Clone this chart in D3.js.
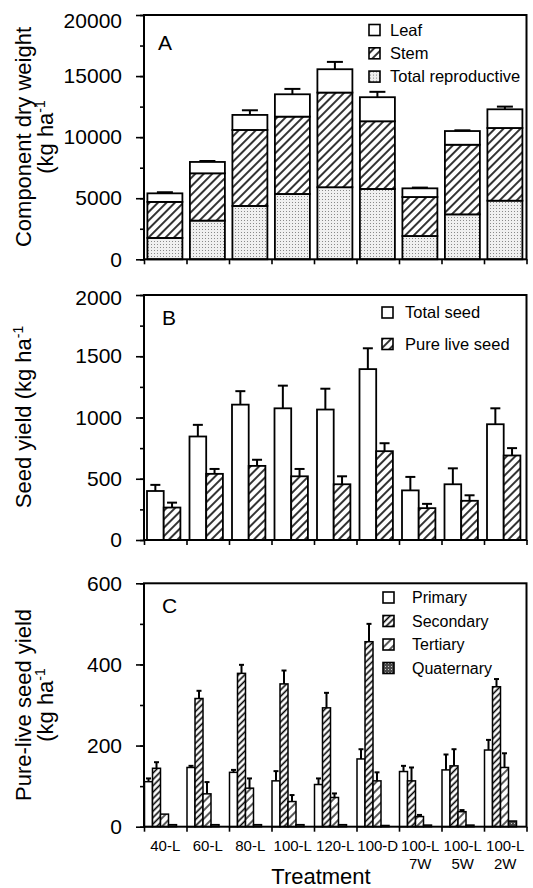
<!DOCTYPE html>
<html>
<head>
<meta charset="utf-8">
<title>Dry weight and seed yield by treatment</title>
<script src="https://cdn.jsdelivr.net/npm/d3@7"></script>
<style>
  body { margin: 0; background: #fff; }
  text { font-family: "Liberation Sans", Arial, Helvetica, sans-serif; fill: #000; }
</style>
</head>
<body>
<svg id="chart" width="533" height="888"></svg>
<script>
// treatments (second label line for the wheat-interval ones)
const treatments = ["40-L", "60-L", "80-L", "100-L", "120-L", "100-D", "100-L", "100-L", "100-L"];
const treatmentSub = ["", "", "", "", "", "", "7W", "5W", "2W"];

// panel A: component dry weight (kg/ha), stacked
const reproductive = [1750, 3170, 4370, 5350, 5900, 5760, 1910, 3680, 4800];
const stem = [2950, 3870, 6220, 6330, 7750, 5540, 3190, 5700, 5950];
const leaf = [700, 930, 1230, 1830, 1910, 1970, 710, 1120, 1530];
const totalErr = [90, 80, 380, 440, 600, 440, 60, 60, 220];

// panel B: seed yield (kg/ha)
const totalSeed = [400, 845, 1105, 1075, 1065, 1395, 405, 455, 945];
const totalSeedErr = [50, 95, 110, 185, 170, 170, 110, 130, 130];
const pureLiveSeed = [265, 540, 605, 520, 455, 725, 260, 320, 690];
const pureLiveSeedErr = [40, 40, 50, 60, 65, 65, 35, 45, 60];

// panel C: pure-live seed yield by tiller class (kg/ha)
const primary = [111, 146, 134, 113, 104, 167, 136, 140, 189];
const primaryErr = [8, 4, 6, 24, 15, 24, 14, 38, 25];
const secondary = [144, 316, 378, 352, 293, 456, 113, 150, 345];
const secondaryErr = [15, 19, 21, 33, 37, 44, 33, 41, 19];
const tertiary = [31, 81, 95, 62, 72, 113, 25, 37, 146];
const tertiaryErr = [0, 29, 24, 16, 10, 21, 4, 4, 35];
const quaternary = [5, 5, 5, 5, 5, 3, 4, 4, 14];
const quaternaryErr = [0, 0, 0, 0, 0, 0, 0, 0, 0];

const svg = d3.select("#chart");
const left = 144, right = 526.5;
const idx = d3.range(treatments.length);
const x = d3.scaleBand().domain(idx).range([left, right]);
const xEdge = d3.scaleLinear().domain([0, treatments.length]).range([left, right]);

// fill patterns
const defs = svg.append("defs");
function hatch(id, gap, w) {
  const p = defs.append("pattern").attr("id", id)
    .attr("patternUnits", "userSpaceOnUse")
    .attr("width", gap).attr("height", gap)
    .attr("patternTransform", "rotate(45)");
  p.append("rect").attr("width", gap).attr("height", gap).attr("fill", "#fff");
  p.append("line").attr("x1", gap / 2).attr("x2", gap / 2).attr("y1", 0).attr("y2", gap)
    .attr("stroke", "#000").attr("stroke-width", w);
}
function stipple(id, bg, dot) {
  const p = defs.append("pattern").attr("id", id)
    .attr("patternUnits", "userSpaceOnUse").attr("width", 3).attr("height", 3);
  p.append("rect").attr("width", 3).attr("height", 3).attr("fill", bg);
  p.append("rect").attr("x", 1).attr("y", 1).attr("width", 1).attr("height", 1).attr("fill", dot);
}
hatch("stemHatch", 6, 1.6);
hatch("plsHatch", 6, 1.6);
hatch("secHatch", 4.5, 1.6);
hatch("terHatch", 6, 1.3);
stipple("reproDots", "#f0f0f0", "#8a8a8a");
stipple("quatDots", "#4a4a4a", "#cfcfcf");

function panel(top, bottom, yMax, major, minor, topShift) {
  const y = d3.scaleLinear().domain([0, yMax]).range([bottom, top]);
  const g = svg.append("g");
  g.append("g").attr("class", "ax").attr("transform", `translate(${left},0)`)
    .call(d3.axisLeft(y).tickValues(d3.range(0, yMax + 1, minor)).tickSize(4).tickFormat(""));
  g.append("g").attr("class", "ax").attr("transform", `translate(${left},0)`)
    .call(d3.axisLeft(y).tickValues(d3.range(0, yMax + 1, major)).tickSize(8).tickPadding(14).tickFormat(d3.format("d")))
    .selectAll("text").style("font-size", "21px")
    .attr("y", d => d === yMax ? topShift : 0);
  g.append("g").attr("class", "ax").attr("transform", `translate(0,${bottom})`)
    .call(d3.axisBottom(xEdge).tickValues(d3.range(treatments.length + 1)).tickSize(5).tickFormat(""));
  g.selectAll(".ax .domain").remove();
  g.selectAll(".ax line").attr("stroke", "#000").attr("stroke-width", 1.6);
  const bars = g.append("g");
  const frame = () => g.append("rect")
    .attr("x", left).attr("y", top).attr("width", right - left).attr("height", bottom - top)
    .attr("fill", "none").attr("stroke", "#000").attr("stroke-width", 2);
  return { g, bars, y, frame };
}

function errorBars(g, data, capW) {
  const e = g.selectAll(null).data(data.filter(d => d.err > 0)).enter().append("g")
    .attr("stroke", "#000").attr("stroke-width", 2);
  e.append("line").attr("x1", d => d.cx).attr("x2", d => d.cx).attr("y1", d => d.y0).attr("y2", d => d.y1);
  e.append("line").attr("x1", d => d.cx - capW / 2).attr("x2", d => d.cx + capW / 2)
    .attr("y1", d => d.y1).attr("y2", d => d.y1);
}

function legend(g, items, bx, by, dy, tx, size) {
  const row = g.selectAll(null).data(items).enter().append("g")
    .attr("transform", (d, i) => `translate(0,${by + i * dy})`);
  row.append("rect").attr("x", bx).attr("y", -5.5).attr("width", 11).attr("height", 11)
    .attr("fill", d => d.fill).attr("stroke", "#000").attr("stroke-width", 1.6);
  row.append("text").attr("x", tx).attr("dy", "0.35em").style("font-size", size + "px").text(d => d.label);
}

function yTitle(lines, cx, cy) {
  lines.forEach((ln, i) => {
    const t = svg.append("text")
      .attr("transform", `translate(${cx + i * 22},${cy}) rotate(-90)`)
      .attr("text-anchor", "middle").style("font-size", "22px");
    t.append("tspan").text(ln.text);
    if (ln.sup) t.append("tspan").attr("dy", -8).style("font-size", "14px").text(ln.sup);
  });
}

// ---- Panel A ----
const A = panel(15, 259.3, 20000, 5000, 2500, 6);
const rowsA = idx.map(i => ({ i, repro: reproductive[i], stem: stem[i], leaf: leaf[i] }));
const stackA = d3.stack().keys(["repro", "stem", "leaf"])(rowsA);
const fillA = { repro: "url(#reproDots)", stem: "url(#stemHatch)", leaf: "#fff" };
const barW = 35, barOff = 3.4;
A.bars.selectAll("g").data(stackA).enter().append("g")
  .attr("fill", s => fillA[s.key])
  .selectAll("rect").data(s => s).enter().append("rect")
  .attr("x", d => x(d.data.i) + barOff).attr("width", barW)
  .attr("y", d => A.y(d[1])).attr("height", d => A.y(d[0]) - A.y(d[1]))
  .attr("stroke", "#000").attr("stroke-width", 1.8);
errorBars(A.g, idx.map(i => {
  const tot = reproductive[i] + stem[i] + leaf[i];
  return { cx: x(i) + barOff + barW / 2, y0: A.y(tot), y1: A.y(tot + totalErr[i]), err: totalErr[i] };
}), 16);
A.frame();
A.g.append("text").attr("x", 158).attr("y", 50).style("font-size", "21px").text("A");
legend(A.g, [
  { label: "Leaf", fill: "#fff" },
  { label: "Stem", fill: "url(#stemHatch)" },
  { label: "Total reproductive", fill: "url(#reproDots)" }
], 369, 30, 23.3, 390, 16.5);

// ---- Panel B ----
const B = panel(295, 540, 2000, 500, 250, 3);
const seriesB = [
  { key: "total", vals: totalSeed, errs: totalSeedErr, fill: "#fff" },
  { key: "pls", vals: pureLiveSeed, errs: pureLiveSeedErr, fill: "url(#plsHatch)" }
];
const subB = d3.scaleBand().domain(seriesB.map(s => s.key)).range([3, 36.4]);
seriesB.forEach(s => {
  B.bars.append("g").attr("fill", s.fill).selectAll("rect").data(idx).enter().append("rect")
    .attr("x", i => x(i) + subB(s.key)).attr("width", subB.bandwidth())
    .attr("y", i => B.y(s.vals[i])).attr("height", i => B.y(0) - B.y(s.vals[i]))
    .attr("stroke", "#000").attr("stroke-width", 1.8);
  errorBars(B.g, idx.map(i => ({
    cx: x(i) + subB(s.key) + subB.bandwidth() / 2,
    y0: B.y(s.vals[i]), y1: B.y(s.vals[i] + s.errs[i]), err: s.errs[i]
  })), 10);
});
B.frame();
B.g.append("text").attr("x", 162).attr("y", 325).style("font-size", "21px").text("B");
legend(B.g, [
  { label: "Total seed", fill: "#fff" },
  { label: "Pure live seed", fill: "url(#plsHatch)" }
], 382, 312.5, 31.5, 405, 16.5);

// ---- Panel C ----
const C = panel(583.3, 826.7, 600, 200, 100, 0);
const seriesC = [
  { key: "Primary", vals: primary, errs: primaryErr, fill: "#fff" },
  { key: "Secondary", vals: secondary, errs: secondaryErr, fill: "url(#secHatch)" },
  { key: "Tertiary", vals: tertiary, errs: tertiaryErr, fill: "url(#terHatch)" },
  { key: "Quaternary", vals: quaternary, errs: quaternaryErr, fill: "url(#quatDots)" }
];
const subC = d3.scaleBand().domain(seriesC.map(s => s.key)).range([0.5, 32.5]);
seriesC.forEach(s => {
  C.bars.append("g").attr("fill", s.fill).selectAll("rect").data(idx).enter().append("rect")
    .attr("x", i => x(i) + subC(s.key)).attr("width", subC.bandwidth())
    .attr("y", i => C.y(s.vals[i])).attr("height", i => C.y(0) - C.y(s.vals[i]))
    .attr("stroke", "#000").attr("stroke-width", 1.5);
  errorBars(C.g, idx.map(i => ({
    cx: x(i) + subC(s.key) + subC.bandwidth() / 2,
    y0: C.y(s.vals[i]), y1: C.y(s.vals[i] + s.errs[i]), err: s.errs[i]
  })), 5);
});
C.frame();
C.g.append("text").attr("x", 162).attr("y", 613).style("font-size", "21px").text("C");
legend(C.g, seriesC.map(s => ({ label: s.key, fill: s.fill })), 383, 597.5, 23.5, 412, 16);

// x labels
const xl = svg.append("g").attr("text-anchor", "middle").style("font-size", "15px");
xl.selectAll(null).data(idx).enter().append("text")
  .attr("x", i => x(i) + x.bandwidth() / 2).attr("y", 851).text(i => treatments[i]);
xl.selectAll(null).data(idx.filter(i => treatmentSub[i])).enter().append("text")
  .attr("x", i => x(i) + x.bandwidth() / 2).attr("y", 869).text(i => treatmentSub[i]);
svg.append("text").attr("x", 321).attr("y", 884).attr("text-anchor", "middle")
  .style("font-size", "22px").text("Treatment");

// y titles
yTitle([{ text: "Component dry weight" }, { text: "(kg ha", sup: "-1" }], 31, 137);
yTitle([{ text: "Seed yield (kg ha", sup: "-1" }], 31, 417);
yTitle([{ text: "Pure-live seed yield" }, { text: "(kg ha", sup: "-1" }], 31, 705);
</script>
</body>
</html>
